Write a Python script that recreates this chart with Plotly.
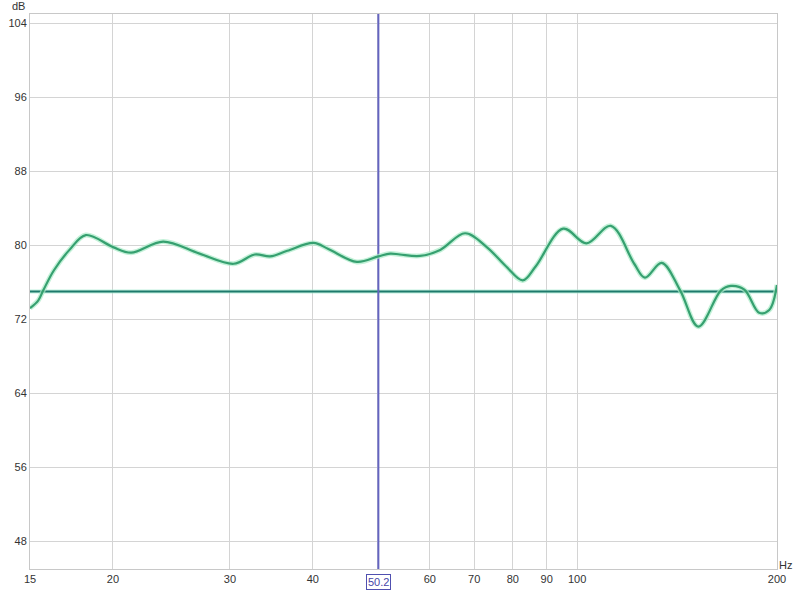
import math
import plotly.graph_objects as go

# Frequency response (Hz, dB)
freq = [15.0, 15.44, 15.7, 16.3, 17.2, 18.2, 20.0, 21.3, 23.8, 27.0, 30.4, 32.7, 34.5,
        36.6, 40.1, 42.2, 46.6, 50.2, 52.3, 54.1, 58.0, 62.2, 67.8, 73.1, 78.2, 82.8,
        86.6, 95.3, 103.3, 112.4, 121.9, 126.5, 134.1, 143.0, 152.3, 164.6, 170.4,
        178.6, 188.0, 194.7, 200.0]
spl = [73.2, 74.05, 75.1, 77.3, 79.5, 81.1, 79.8, 79.2, 80.4, 79.1, 78.0, 79.0, 78.8,
       79.4, 80.25, 79.6, 78.2, 78.8, 79.1, 79.0, 78.85, 79.5, 81.3, 79.8, 77.7, 76.2,
       77.7, 81.8, 80.2, 82.1, 78.0, 76.5, 78.1, 75.1, 71.2, 75.1, 75.6, 75.2, 72.7,
       73.0, 75.7]

target_level = 75.0
cursor_freq = 50.2
x_min, x_max = 15, 200
y_min, y_max = 45, 105

x_tickvals = [15, 20, 30, 40, 50, 60, 70, 80, 90, 100, 200]
x_ticktext = ["15", "20", "30", "40", "", "60", "70", "80", "90", "100", "200"]
y_tickvals = [48, 56, 64, 72, 80, 88, 96, 104]

fig = go.Figure()

# target level line (halo + line)
fig.add_trace(go.Scatter(x=[x_min, x_max], y=[target_level, target_level], mode="lines",
                         line=dict(color="rgba(170,235,210,0.7)", width=4),
                         hoverinfo="skip", showlegend=False))
fig.add_trace(go.Scatter(x=[x_min, x_max], y=[target_level, target_level], mode="lines",
                         line=dict(color="#1e7a6c", width=2), showlegend=False))

# cursor line
fig.add_trace(go.Scatter(x=[cursor_freq, cursor_freq], y=[y_min, y_max], mode="lines",
                         line=dict(color="#6464c0", width=2), showlegend=False))

# response curve (halo + line)
fig.add_trace(go.Scatter(x=freq, y=spl, mode="lines",
                         line=dict(color="rgba(170,235,200,0.7)", width=5, shape="spline", smoothing=1.0),
                         hoverinfo="skip", showlegend=False))
fig.add_trace(go.Scatter(x=freq, y=spl, mode="lines",
                         line=dict(color="#36a070", width=2.2, shape="spline", smoothing=1.0),
                         showlegend=False))

fig.update_layout(
    width=800, height=590,
    margin=dict(l=30, r=23, t=14, b=21),
    paper_bgcolor="white", plot_bgcolor="white",
    font=dict(family="Liberation Sans, Arial, sans-serif", size=11, color="#333333"),
    xaxis=dict(type="log", range=[math.log10(x_min), math.log10(x_max)],
               tickvals=x_tickvals, ticktext=x_ticktext, tickangle=0, automargin=False,
               showgrid=True, gridcolor="#d4d4d4", gridwidth=1, zeroline=False,
               showline=True, linecolor="#c8c8c8", mirror=True, ticks="",
               tickfont=dict(size=11, color="#333333")),
    yaxis=dict(range=[y_min, y_max], tickvals=y_tickvals, automargin=False,
               showgrid=True, gridcolor="#d4d4d4", gridwidth=1, zeroline=False,
               showline=True, linecolor="#c8c8c8", mirror=True, ticks="",
               tickfont=dict(size=11, color="#333333")),
    annotations=[
        dict(x=math.log10(cursor_freq), y=0, xref="x", yref="paper", text=str(cursor_freq),
             showarrow=False, yanchor="top", yshift=-5,
             font=dict(size=11, color="#4646a8"), bordercolor="#5050b0", borderwidth=1,
             borderpad=1, bgcolor="white"),
        dict(x=0, y=1, xref="paper", yref="paper", text="dB", showarrow=False,
             xanchor="right", yanchor="bottom", xshift=-3, yshift=0,
             font=dict(size=11, color="#333333")),
        dict(x=1, y=0, xref="paper", yref="paper", text="Hz", showarrow=False,
             xanchor="left", yanchor="bottom", xshift=0, yshift=-4,
             font=dict(size=11, color="#333333")),
    ],
)

# remove the default page margin so the figure fills the 800x590 window exactly
fig.write_html("out.html", config={"displayModeBar": False},
               post_script="document.body.style.margin='0';document.body.style.overflow='hidden';")
